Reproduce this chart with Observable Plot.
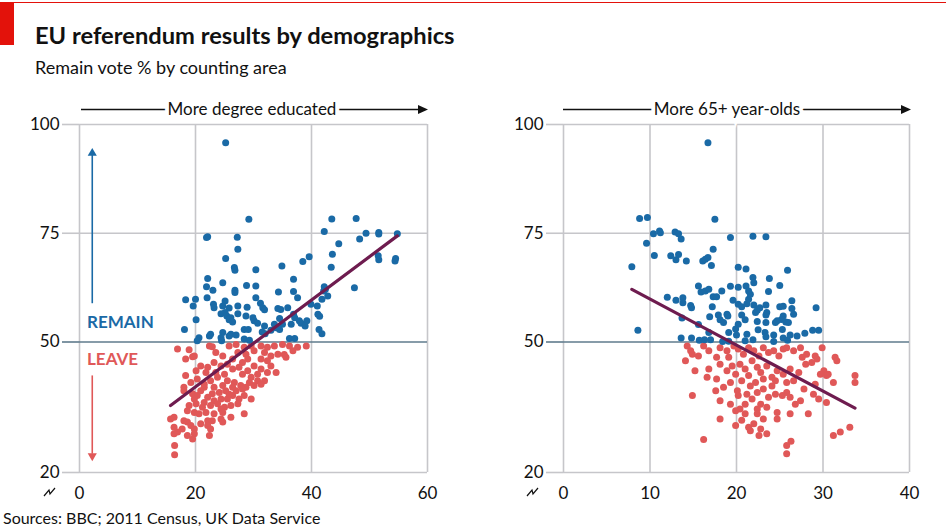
<!DOCTYPE html>
<html><head><meta charset="utf-8">
<script src="https://cdn.jsdelivr.net/npm/d3@7"></script>
<script src="https://cdn.jsdelivr.net/npm/@observablehq/plot@0.6"></script>
<style>
body{margin:0;background:#fff;}
#chart{position:relative;width:946px;height:532px;overflow:hidden;font-family:Lato,"Open Sans",sans-serif;color:#111;background:#fff;}
#topline{position:absolute;left:0;top:2px;width:946px;height:1px;background:#e3120b;}
#redbox{position:absolute;left:0;top:3px;width:14px;height:42px;background:#e3120b;}
#title{position:absolute;left:35px;top:21px;font-size:23.7px;font-weight:bold;white-space:nowrap;line-height:28px;}
#subtitle{position:absolute;left:35px;top:56px;font-size:18px;white-space:nowrap;line-height:22px;}
#source{position:absolute;left:3px;top:508px;font-size:16px;white-space:nowrap;line-height:20px;}
.panel{position:absolute;top:115px;}
#overlay{position:absolute;left:0;top:0;pointer-events:none;}
</style></head><body>
<div id="chart">
<div id="topline"></div><div id="redbox"></div>
<div id="title">EU referendum results by demographics</div>
<div id="subtitle">Remain vote % by counting area</div>
<div id="left" class="panel" style="left:0px"></div>
<div id="right" class="panel" style="left:480px"></div>
<div id="source">Sources: BBC; 2011 Census, UK Data Service</div>
</div>
<script>
// ---- data ----
// Left panel: x = % degree educated, y = Remain vote %
const degreeRemain = [[25.2,95.8],[29.2,78.2],[21.9,74.0],[22.1,74.2],[27.2,74.1],[27.3,71.3],[42.2,75.4],[43.5,78.3],[47.7,78.4],[44.7,72.6],[48.3,73.7],[49.4,75.0],[51.6,75.2],[51.6,74.8],[54.8,74.9],[43.6,70.2],
[25.2,69.2],[26.7,67.1],[26.8,66.5],[30.4,66.6],[34.9,67.5],[39.6,69.6],[38.5,68.5],[43.4,67.2],[36.9,64.4],[22.1,64.6],[24.7,63.6],[21.9,62.7],[23.0,61.9],[26.8,61.9],[26.8,61.4],[28.8,63.0],[30.4,62.9],[30.4,60.2],[34.3,61.5],[36.9,61.6],[37.6,60.2],[42.2,62.7],[42.4,62.1],[42.1,61.7],[47.4,62.5],[42.8,60.6],[41.8,59.8],[18.3,59.7],[20.0,59.8],[19.6,58.3],[22.0,60.2],[23.1,58.7],[23.2,57.9],[25.1,59.4],[24.7,58.3],[25.8,57.8],[25.1,56.8],[24.4,56.5],[25.4,56.0],[26.1,55.6],[25.8,55.1],[26.4,54.6],[27.3,58.3],[27.3,56.5],[28.9,58.0],[28.7,56.0],[31.2,58.9],[31.6,57.9],[31.9,57.4],[29.9,55.6],[30.1,54.9],[30.7,54.3],[28.4,52.9],[29.1,52.9],[31.9,53.7],[33.0,52.7],[34.2,57.7],[34.7,57.5],[34.5,55.4],[33.6,54.1],[33.9,53.3],[35.0,54.1],[35.9,57.9],[36.9,56.4],[37.1,55.6],[36.5,54.1],[37.9,54.9],[38.2,54.3],[39.2,54.9],[38.9,53.7],[39.9,58.7],[41.0,58.3],[41.1,56.4],[41.4,55.9],[41.3,52.9],[41.8,51.9],[18.1,52.9],[20.1,55.1],[20.6,51.0],[22.4,51.4],[22.6,51.8],[24.7,52.2],[24.4,51.0],[25.8,51.4],[26.1,51.8],[27.0,51.6],[28.4,50.7],[29.3,50.4],[31.5,52.3],[32.0,51.9],[34.5,52.9],[36.2,50.8],[37.1,50.8],[20.3,50.3],[24.5,50.3],
[54.4,68.6],[54.5,69.2],[51.6,68.9],[51.5,69.8]];
const degreeLeave = [[16.9,48.4],[22.4,49.1],[22.9,48.9],[25.8,49.1],[27.0,49.4],[28.4,48.8],[29.6,49.1],[31.3,49.1],[32.4,48.8],[33.6,49.1],[35.0,49.4],[36.2,49.1],[37.6,48.8],[39.1,49.1],
[18.3,46.1],[19.8,46.8],[23.5,47.6],[24.7,46.8],[27.3,47.6],[28.7,47.2],[30.1,48.0],[31.9,47.6],[33.0,46.8],[34.2,47.2],[35.3,47.1],[35.6,46.5],[36.8,48.0],[32.4,45.7],[31.3,46.1],[29.0,46.1],[26.4,46.1],[28.1,45.3],
[20.9,44.5],[20.1,43.4],[22.1,44.2],[23.2,45.3],[24.4,44.5],[25.5,44.9],[26.4,43.8],[27.5,44.2],[29.0,43.4],[30.1,44.5],[31.3,43.8],[33.0,44.5],[33.9,43.0],[32.4,43.0],[30.7,42.6],[29.6,41.9],[28.1,42.6],[23.5,43.0],[25.0,42.6],[21.8,43.0],
[18.3,42.3],[19.2,40.7],[20.3,41.5],[21.5,40.3],[22.6,41.1],[23.8,41.9],[25.5,41.1],[26.7,40.7],[27.8,40.0],[29.3,40.7],[30.7,41.1],[31.9,41.1],[31.3,40.3],[30.1,40.0],[28.7,39.6],[26.4,39.6],[24.7,40.0],[23.2,39.6],[21.5,39.6],
[18.0,38.8],[19.5,38.1],[20.3,37.7],[20.9,38.8],[22.1,37.3],[22.9,38.1],[24.1,38.4],[25.2,38.8],[26.4,37.7],[27.5,36.9],[28.4,37.7],[29.6,36.9],[27.0,38.8],[25.5,36.9],[24.4,36.9],[23.2,36.5],[21.5,36.1],[19.8,36.9],[25.8,38.0],[28.1,39.2],
[18.9,35.4],[20.1,35.8],[21.2,35.0],[22.6,35.4],[23.8,35.8],[25.0,35.0],[24.4,34.6],[26.1,35.4],[27.3,35.8],[18.6,34.2],[19.8,33.8],[20.6,33.5],[21.8,33.8],[23.2,33.5],[24.7,33.8],[26.1,32.7],[28.4,33.5],
[15.7,32.3],[16.3,32.7],[18.0,31.9],[18.6,31.6],[19.2,30.8],[17.7,30.0],[19.8,30.0],[16.3,30.4],[16.9,29.3],[22.1,31.9],[22.9,31.9],[24.4,32.3],[24.7,31.6],[22.1,30.8],[22.6,30.0],[18.6,28.5],[19.8,28.9],[19.5,27.7],[22.4,28.5],[16.3,28.9],[20.9,31.2],
[16.4,26.2],[16.4,24.1],[18.9,48.2],[19.5,46.6],[18.0,39.6]];
const degreeTrend = [[15.7,35.4],[54.8,74.4]];

// Right panel: x = % aged 65+, y = Remain vote %
const ageRemain = [[16.7,95.8],[8.8,78.4],[9.7,78.6],[17.5,78.2],[10.4,74.9],[11.1,75.5],[11.2,75.1],[12.9,75.3],[13.3,74.9],[13.6,73.7],[9.6,72.7],[19.3,74.0],[21.9,74.3],[23.4,74.2],[10.5,69.9],[12.4,69.8],[13.0,68.9],[13.3,70.1],[14.2,68.6],[17.3,71.3],[16.1,68.6],[16.4,69.0],[16.7,69.4],[17.1,67.6],[7.9,67.3],[20.2,67.2],[21.1,66.8],[21.9,64.8],[22.0,63.6],[23.8,64.6],[25.9,66.5],[15.6,62.9],[15.9,61.5],[16.4,61.7],[16.8,62.1],[18.3,61.7],[19.3,62.8],[20.2,62.6],[21.1,62.9],[23.7,61.6],[25.0,63.0],[12.0,60.3],[13.0,59.6],[13.8,60.2],[13.8,59.0],[14.7,58.4],[14.8,57.9],[17.3,60.4],[17.7,60.4],[17.2,58.1],[19.6,59.6],[20.2,58.7],[20.6,58.1],[21.2,58.8],[21.4,59.8],[21.6,61.0],[21.4,61.7],[22.0,58.5],[22.2,56.8],[22.4,57.3],[22.7,57.9],[23.4,58.5],[23.5,56.8],[23.4,56.2],[25.0,58.1],[25.4,58.2],[25.4,56.0],[25.2,55.2],[26.4,59.5],[26.4,57.7],[26.6,56.4],[29.2,57.9],[13.7,55.5],[15.6,54.0],[16.9,55.8],[17.9,56.2],[18.1,55.1],[18.5,54.5],[18.9,56.4],[19.0,56.0],[20.2,54.1],[20.6,56.2],[21.0,55.1],[22.4,54.7],[22.5,52.8],[23.4,54.5],[24.5,54.5],[24.7,54.9],[25.7,54.6],[26.0,54.5],[25.3,52.9],[8.6,52.7],[13.6,50.9],[14.8,50.9],[16.3,50.5],[17.0,50.5],[16.8,52.2],[15.7,50.4],[19.1,52.2],[19.9,53.0],[20.0,51.6],[21.2,51.8],[21.0,50.3],[21.9,50.5],[23.3,52.2],[23.4,51.2],[24.3,51.6],[24.3,50.1],[25.4,50.9],[25.9,50.4],[26.2,51.6],[27.0,51.4],[27.9,52.0],[28.8,52.7],[29.5,52.7],[18.4,50.1],[19.1,50.2]];
const ageLeave = [[14.3,49.1],[14.9,47.2],[15.6,46.8],[16.2,49.1],[16.8,48.0],[17.7,46.5],[18.1,48.7],[18.9,48.0],[19.1,46.5],[19.7,49.1],[20.2,48.4],[20.8,47.2],[21.4,48.7],[22.0,48.0],[22.6,46.8],[23.1,48.7],[23.7,47.6],[24.3,48.0],[24.9,46.8],[25.4,48.4],[25.8,48.7],[26.6,48.0],[27.4,48.7],[27.6,46.5],[28.1,47.2],[28.7,45.3],[29.1,46.8],[29.3,46.1],[29.9,48.7],[31.4,46.5],[31.6,45.7],[30.1,43.4],[30.6,42.6],[14.1,45.7],[14.7,48.0],
[15.2,43.4],[16.8,43.8],[16.6,41.9],[17.7,41.5],[18.1,44.9],[18.9,43.4],[19.5,44.5],[19.9,42.6],[20.4,44.9],[21.0,43.8],[21.4,42.3],[21.8,45.7],[22.4,44.2],[22.8,43.0],[23.5,44.5],[24.1,41.9],[24.7,43.4],[25.4,42.6],[26.2,43.8],[26.6,41.1],[27.2,43.0],[28.0,44.9],[25.8,40.7],[19.3,40.7],[20.6,41.1],[22.2,40.7],[23.1,41.5],[24.5,41.1],[27.8,39.2],[29.1,40.3],[29.7,42.6],[30.4,42.3],[31.2,40.7],[33.7,42.3],[33.7,40.7],[18.5,39.6],[17.6,38.8],[20.1,38.8],
[14.9,37.7],[18.1,36.5],[19.3,35.7],[20.2,37.7],[21.2,38.0],[21.8,36.9],[22.4,38.4],[23.1,39.2],[23.7,37.3],[24.5,38.0],[25.3,37.7],[25.8,38.4],[26.2,37.3],[26.8,35.7],[27.4,36.5],[28.9,38.0],[29.5,36.9],[30.4,36.1],[21.0,35.7],[22.8,35.7],[20.4,34.6],[19.9,34.2],[23.5,35.0],[21.6,39.9],[24.1,39.9],[22.4,34.6],
[18.1,32.3],[19.9,30.8],[20.6,32.0],[21.0,33.5],[21.4,30.4],[22.0,31.2],[22.4,33.5],[22.8,30.0],[23.1,32.3],[23.5,28.9],[24.7,33.8],[24.7,32.3],[26.2,33.5],[28.3,33.5],[22.6,28.5],[21.6,29.6],[16.2,27.6],[31.2,28.5],[32.0,29.3],[33.1,30.4],
[25.8,26.2],[26.3,27.2],[25.8,24.3]];
const ageTrend = [[7.9,62.1],[33.7,34.8]];

const yTicks = [20, 50, 75, 100];
const degreeTicks = [0, 20, 40, 60];
const ageTicks = [0, 10, 20, 30, 40];

// ---- styles ----
const BLUE = "#1a6aa6", RED = "#e05858", PURPLE = "#6e1c4f", GRID = "#c6c6ca", MID = "#5f7b8c";
const FONT = "Lato, 'Open Sans', sans-serif";

function panel({remain, leave, trend, xDomain, xTicks, width, marginLeft, marginRight, extra = []}) {
  const gridY = yTicks.filter(d => d !== 50);
  return Plot.plot({
    width, height: 392, marginLeft, marginRight, marginTop: 9, marginBottom: 35,
    style: {fontFamily: FONT, fontSize: "17px", color: "#111", background: "transparent", overflow: "visible"},
    x: {domain: xDomain},
    y: {domain: [20, 100]},
    marks: [
      Plot.ruleX(xTicks, {stroke: GRID, strokeWidth: 1.6}),
      Plot.ruleY(gridY, {stroke: GRID, strokeWidth: 1.6}),
      Plot.axisY({ticks: gridY, tickSize: 17, tickPadding: 3, stroke: GRID, strokeWidth: 1.6, label: null, fill: "#111"}),
      Plot.ruleY([50], {stroke: MID, strokeWidth: 1.6}),
      Plot.axisY({ticks: [50], tickSize: 17, tickPadding: 3, stroke: MID, strokeWidth: 1.6, label: null, fill: "#111"}),
      Plot.axisX({ticks: xTicks, tickSize: 0, tickPadding: 14, label: null, fill: "#111"}),
      ...extra,
      Plot.dot(leave, {x: d => d[0], y: d => d[1], r: 3.5, fill: RED}),
      Plot.dot(remain, {x: d => d[0], y: d => d[1], r: 3.5, fill: BLUE}),
      Plot.line(trend, {x: d => d[0], y: d => d[1], stroke: PURPLE, strokeWidth: 3.2})
    ]
  });
}

const annotations = [
  Plot.ruleX([2.2], {y1: 58.8, y2: 93, stroke: BLUE, strokeWidth: 1.6}),
  Plot.dot([[2.2, 93.4]], {x: d => d[0], y: d => d[1], symbol: "triangle", r: 3.4, fill: BLUE}),
  Plot.ruleX([2.2], {y1: 42.2, y2: 24.2, stroke: RED, strokeWidth: 1.6}),
  Plot.dot([[2.2, 23.8]], {x: d => d[0], y: d => d[1], symbol: "triangle", rotate: 180, r: 3.4, fill: RED}),
  Plot.text(["REMAIN"], {x: 1.3, y: 54.4, text: d => d, textAnchor: "start", fill: BLUE, fontWeight: "bold", fontSize: 17}),
  Plot.text(["LEAVE"], {x: 1.3, y: 45.9, text: d => d, textAnchor: "start", fill: RED, fontWeight: "bold", fontSize: 17})
];

document.getElementById("left").appendChild(panel({
  remain: degreeRemain, leave: degreeLeave, trend: degreeTrend,
  xDomain: [0, 60], xTicks: degreeTicks, width: 450, marginLeft: 79, marginRight: 23, extra: annotations
}));
document.getElementById("right").appendChild(panel({
  remain: ageRemain, leave: ageLeave, trend: ageTrend,
  xDomain: [0, 40], xTicks: ageTicks, width: 466, marginLeft: 83, marginRight: 37
}));

// ---- decorations: axis headers with arrows, axis-break marks ----
const ns = "http://www.w3.org/2000/svg";
const ov = document.createElementNS(ns, "svg");
ov.setAttribute("id", "overlay"); ov.setAttribute("width", 946); ov.setAttribute("height", 532);
ov.innerHTML = `
 <g stroke="#111" stroke-width="1.6" fill="none">
  <line x1="81" y1="109.5" x2="420" y2="109.5"/>
  <line x1="563" y1="109.5" x2="904" y2="109.5"/>
 </g>
 <polygon points="428,109.5 418,105 418,114" fill="#111"/>
 <polygon points="911,109.5 901,105 901,114" fill="#111"/>
 <g font-family="${FONT}" font-size="17" fill="#111" text-anchor="middle" stroke="#fff" stroke-width="8" paint-order="stroke" dominant-baseline="central">
  <text x="252" y="108.5">More degree educated</text>
  <text x="727" y="108.5">More 65+ year-olds</text>
 </g>
 <g stroke="#111" stroke-width="1.2" fill="none">
  <path d="M44,496 L49,490 L50,494 L55,488"/>
  <path d="M527,496 L532,490 L533,494 L538,488"/>
 </g>`;
document.getElementById("chart").appendChild(ov);
</script>
</body></html>
